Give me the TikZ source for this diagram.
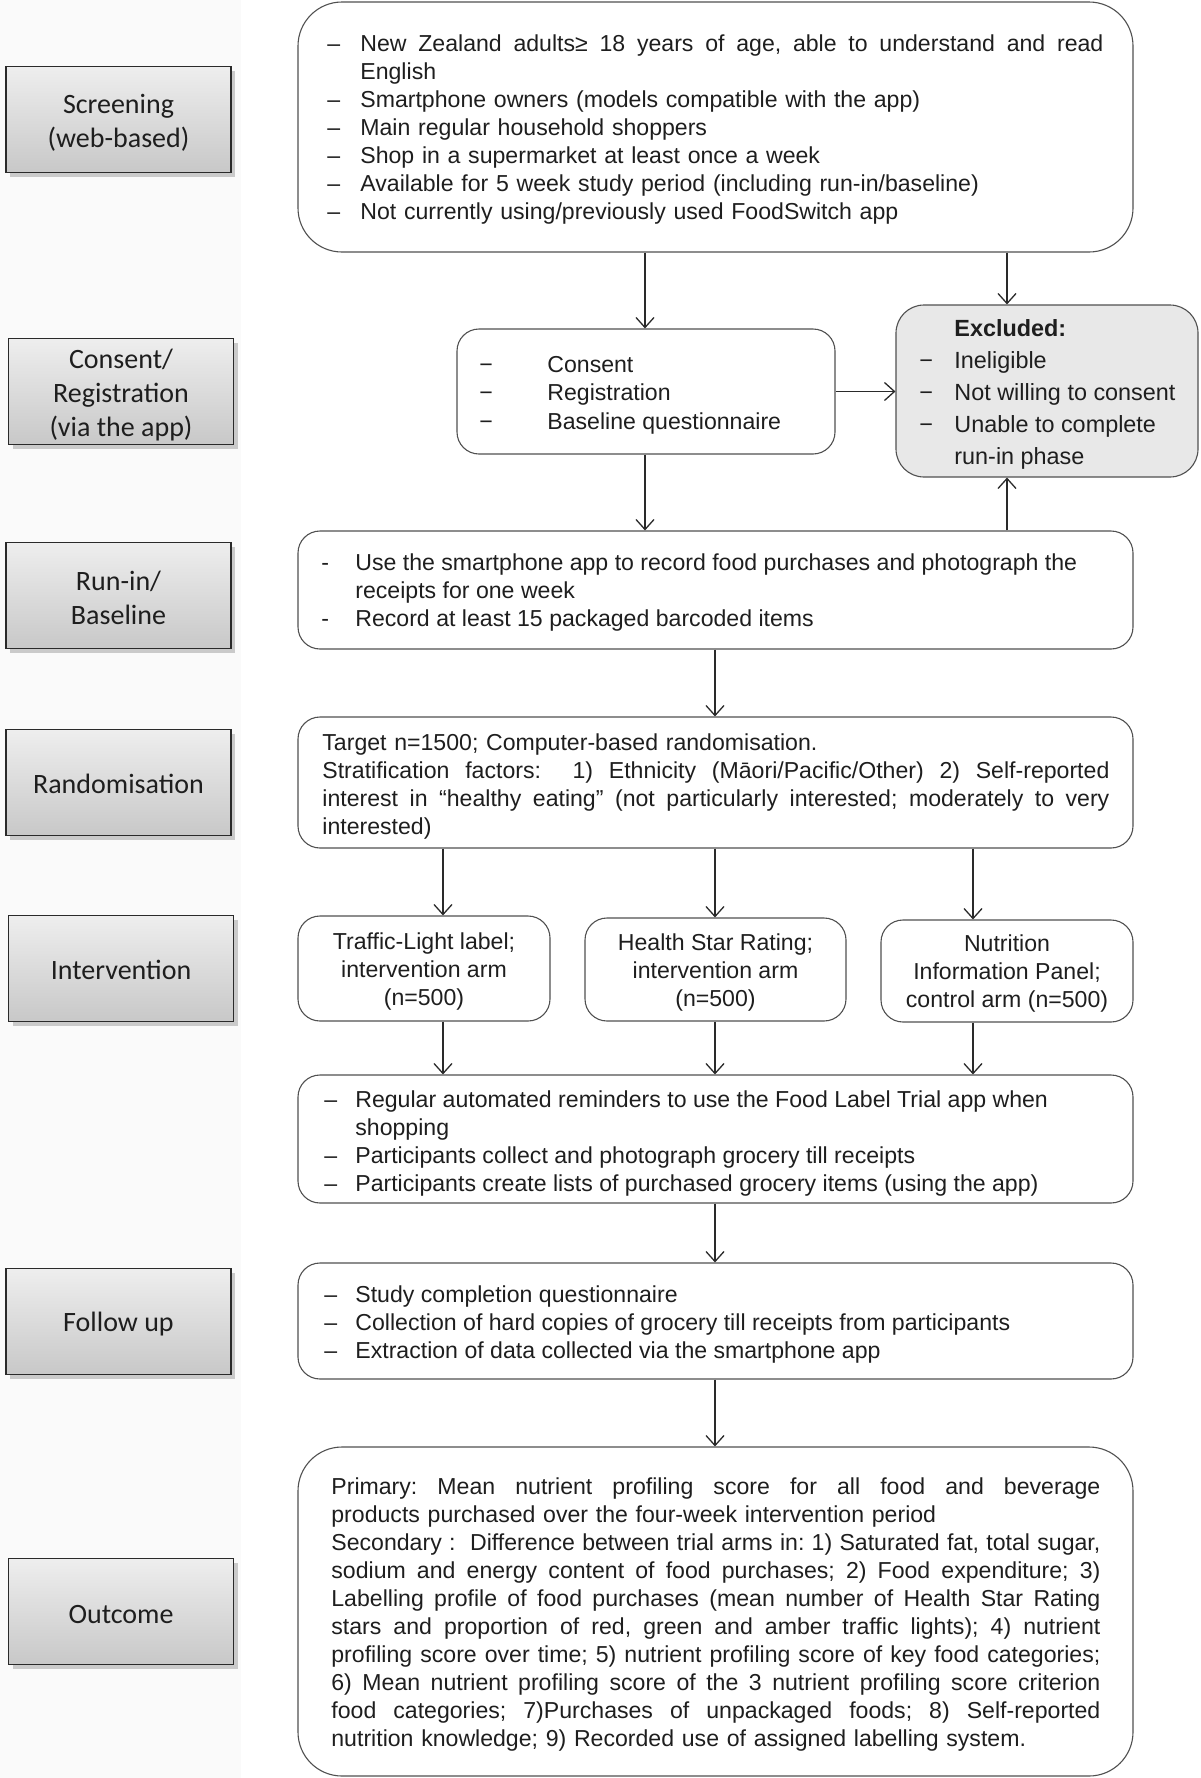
\documentclass[tikz,border=0pt]{standalone}
\usepackage{fontspec}
\setmainfont{Liberation Sans}
\newfontfamily\labfont{Carlito}
\usetikzlibrary{arrows.meta,shadows}
\definecolor{txt}{HTML}{1E1E1E}
\definecolor{bord}{HTML}{505050}
\definecolor{exfill}{HTML}{E8E8E8}
\definecolor{labtop}{HTML}{EEEEEE}
\definecolor{labbot}{HTML}{C8C8C8}
\definecolor{labline}{HTML}{2A2A2A}
\definecolor{strip}{HTML}{FAFAFA}
\newcommand\jst[2]{\makebox[#1][s]{\frenchspacing\spaceskip=0pt\xspaceskip=0pt\relax #2}}
\begin{document}
\begin{tikzpicture}[x=0.5pt,y=-0.5pt,
  rbox/.style={draw=bord, line width=0.55pt, inner sep=0pt},
  lab/.style={draw=labline, line width=0.9pt, top color=labtop, bottom color=labbot,
    minimum width=112.5pt, minimum height=53pt, inner sep=0pt,
    drop shadow={shadow xshift=2pt, shadow yshift=-2pt, opacity=0.35, fill=black!55}},
  labt/.style={font=\labfont\fontsize{14pt}{16.8pt}\selectfont, text=txt, align=center, inner sep=0pt},
  body/.style={font=\fontsize{11.55pt}{14pt}\selectfont, text=txt, inner sep=0pt, align=left, anchor=west},
  arm/.style={rbox, rounded corners=11pt},
  armt/.style={font=\fontsize{11.55pt}{14pt}\selectfont, text=txt, align=center, inner sep=0pt},
  arr/.style={draw=labline, line width=0.65pt, -{Straight Barb[length=5pt,width=9pt]}},
]
\useasboundingbox (0,0) rectangle (1200,1778);
\fill[strip] (0,0) rectangle (241,1778);

% left labels
\node[lab] (Lscr) at (118.5,119.5) {};
\node[lab] (Lcon) at (121,391.5) {};
\node[lab] (Lrun) at (118.5,595.5) {};
\node[lab] (Lrnd) at (118.5,782.5) {};
\node[lab] (Lint) at (121,968.5) {};
\node[lab] (Lfol) at (118.5,1321.5) {};
\node[lab] (Lout) at (121,1611.5) {};
\node[labt] (LscrT) at (118.5,123) {Screening\\(web-based)};
\node[labt] (LconT) at (121,395) {Consent/\\Registration\\(via the app)};
\node[labt] (LrunT) at (118.5,598) {Run-in/\\Baseline};
\node[labt] (LrndT) at (118.5,784) {Randomisation};
\node[labt] (LintT) at (121,970) {Intervention};
\node[labt] (LfolT) at (118.5,1324.5) {Follow up};
\node[labt] (LoutT) at (121,1614) {Outcome};

% right boxes
\node[rbox, rounded corners=22pt, minimum width=417.5pt, minimum height=125pt] (scr) at (715.5,127) {};
\node[rbox, rounded corners=11pt, minimum width=189pt, minimum height=62.5pt] (con) at (646,391.5) {};
\node[rbox, fill=exfill, rounded corners=14pt, minimum width=151pt, minimum height=86pt] (exc) at (1047,391) {};
\node[rbox, rounded corners=11pt, minimum width=417.5pt, minimum height=59pt] (run) at (715.5,590) {};
\node[rbox, rounded corners=11pt, minimum width=417.5pt, minimum height=65.5pt] (rnd) at (715.5,782.5) {};
\node[arm, minimum width=126pt, minimum height=52.5pt] (tl) at (424,968.5) {};
\node[arm, minimum width=130.5pt, minimum height=51.5pt] (hsr) at (715.5,969.5) {};
\node[arm, minimum width=126pt, minimum height=51pt] (nip) at (1007,971) {};
\node[rbox, rounded corners=11pt, minimum width=417.5pt, minimum height=64pt] (rem) at (715.5,1139) {};
\node[rbox, rounded corners=11pt, minimum width=417.5pt, minimum height=58pt] (fol) at (715.5,1321) {};
\node[rbox, rounded corners=22pt, minimum width=417.5pt, minimum height=164.5pt] (out) at (715.5,1611.5) {};

\node[armt] (tlT) at (424,972) {Traffic-Light label;\\intervention arm\\(n=500)};
\node[armt] (hsrT) at (715.5,973) {Health Star Rating;\\intervention arm\\(n=500)};
\node[armt] (nipT) at (1007,974) {Nutrition\\Information Panel;\\control arm (n=500)};

% texts
\node[body, text width=388pt] (scrT) at (327,129.5) {%
\makebox[16.5pt][l]{–}\jst{371.5pt}{New Zealand adults≥ 18 years of age, able to understand and read}\\
\hspace*{16.5pt}English\\
\makebox[16.5pt][l]{–}Smartphone owners (models compatible with the app)\\
\makebox[16.5pt][l]{–}Main regular household shoppers\\
\makebox[16.5pt][l]{–}Shop in a supermarket at least once a week\\
\makebox[16.5pt][l]{–}Available for 5 week study period (including run-in/baseline)\\
\makebox[16.5pt][l]{–}Not currently using/previously used FoodSwitch app};

\node[body, font=\fontsize{11.55pt}{14.2pt}\selectfont] (conT) at (479,395) {%
\makebox[34pt][l]{−}Consent\\
\makebox[34pt][l]{−}Registration\\
\makebox[34pt][l]{−}Baseline questionnaire};

\node[body, font=\fontsize{11.7pt}{16pt}\selectfont] (excT) at (919,394.5) {%
\hspace*{17.5pt}\textbf{Excluded:}\\
\makebox[17.5pt][l]{−}Ineligible\\
\makebox[17.5pt][l]{−}Not willing to consent\\
\makebox[17.5pt][l]{−}Unable to complete\\
\hspace*{17.5pt}run-in phase};

\node[body] (runT) at (321,593) {%
\makebox[17pt][l]{-}Use the smartphone app to record food purchases and photograph the\\
\hspace*{17pt}receipts for one week\\
\makebox[17pt][l]{-}Record at least 15 packaged barcoded items};

\node[body, text width=393.5pt] (rndT) at (322,787) {%
Target n=1500; Computer-based randomisation.\\
\jst{393.5pt}{Stratification factors:\ \ 1) Ethnicity (Māori/Pacific/Other) 2) Self-reported}\\
\jst{393.5pt}{interest in “healthy eating” (not particularly interested; moderately to very}\\
interested)};

\node[body] (remT) at (324,1143.5) {%
\makebox[15.5pt][l]{–}Regular automated reminders to use the Food Label Trial app when\\
\hspace*{15.5pt}shopping\\
\makebox[15.5pt][l]{–}Participants collect and photograph grocery till receipts\\
\makebox[15.5pt][l]{–}Participants create lists of purchased grocery items (using the app)};

\node[body] (folT) at (324,1325) {%
\makebox[15.5pt][l]{–}Study completion questionnaire\\
\makebox[15.5pt][l]{–}Collection of hard copies of grocery till receipts from participants\\
\makebox[15.5pt][l]{–}Extraction of data collected via the smartphone app};

\node[body, text width=384.5pt] (outT) at (331,1614.5) {%
\jst{384.5pt}{Primary: Mean nutrient profiling score for all food and beverage}\\
products purchased over the four-week intervention period\\
\jst{384.5pt}{Secondary :\ \ Difference between trial arms in: 1) Saturated fat, total sugar,}\\
\jst{384.5pt}{sodium and energy content of food purchases; 2) Food expenditure; 3)}\\
\jst{384.5pt}{Labelling profile of food purchases (mean number of Health Star Rating}\\
\jst{384.5pt}{stars and proportion of red, green and amber traffic lights); 4) nutrient}\\
\jst{384.5pt}{profiling score over time; 5) nutrient profiling score of key food categories;}\\
\jst{384.5pt}{6) Mean nutrient profiling score of the 3 nutrient profiling score criterion}\\
\jst{384.5pt}{food categories; 7)Purchases of unpackaged foods; 8) Self-reported}\\
nutrition knowledge; 9) Recorded use of assigned labelling system.};

% connector x positions
\coordinate (c1) at (645,0);
\coordinate (c2) at (1007,0);
\coordinate (c3) at (715,0);
\coordinate (a1) at (443,0);
\coordinate (a3) at (973,0);

\draw[arr] (scr.south -| c1) -- (con.north -| c1);
\draw[arr] (scr.south -| c2) -- (exc.north -| c2);
\draw[arr] (con.east) -- (con.east -| exc.west);
\draw[arr] (con.south -| c1) -- (run.north -| c1);
\draw[arr] (run.north -| c2) -- (exc.south -| c2);
\draw[arr] (run.south -| c3) -- (rnd.north -| c3);
\draw[arr] (rnd.south -| a1) -- (tl.north -| a1);
\draw[arr] (rnd.south -| c3) -- (hsr.north -| c3);
\draw[arr] (rnd.south -| a3) -- (nip.north -| a3);
\draw[arr] (tl.south -| a1) -- (rem.north -| a1);
\draw[arr] (hsr.south -| c3) -- (rem.north -| c3);
\draw[arr] (nip.south -| a3) -- (rem.north -| a3);
\draw[arr] (rem.south -| c3) -- (fol.north -| c3);
\draw[arr] (fol.south -| c3) -- (out.north -| c3);
\end{tikzpicture}
\end{document}
